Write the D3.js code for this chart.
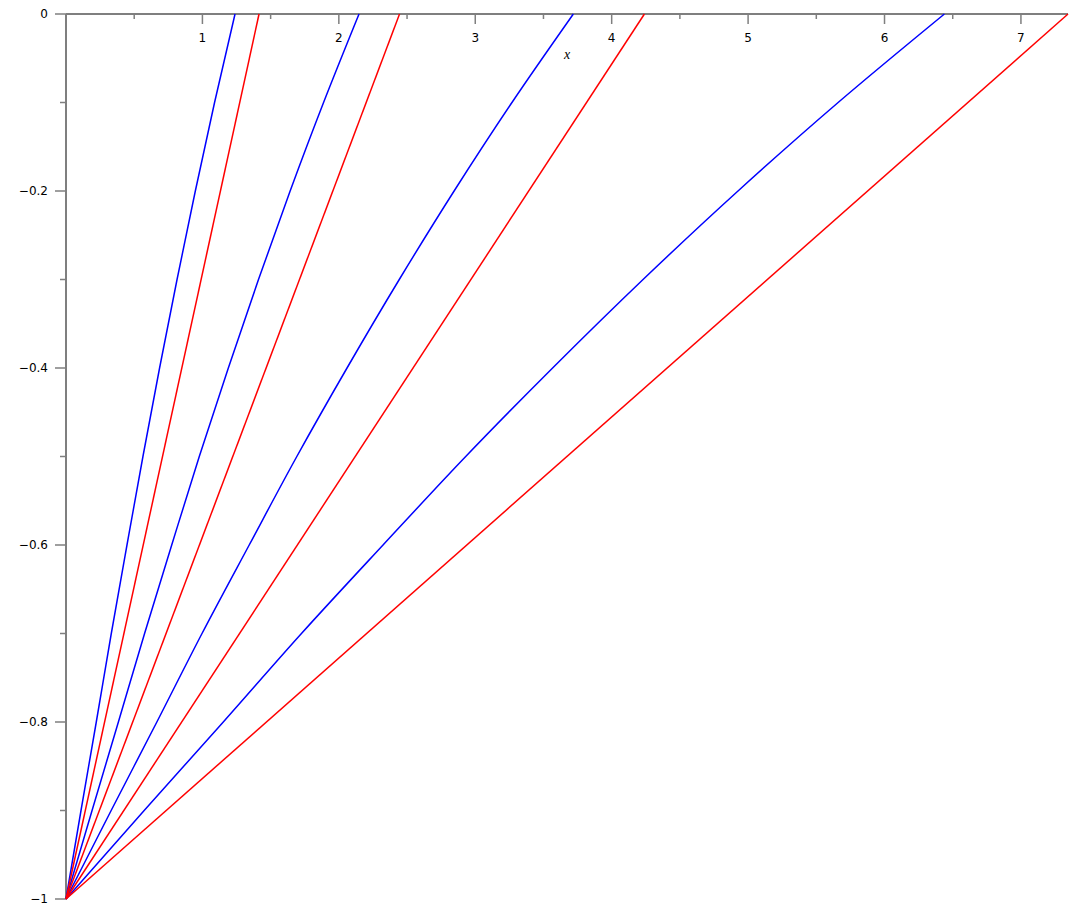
<!DOCTYPE html>
<html>
<head>
<meta charset="utf-8">
<script src="https://cdn.jsdelivr.net/npm/d3@7"></script>
<style>
  html, body { margin: 0; padding: 0; background: #fff; }
  svg { display: block; }
</style>
</head>
<body>
<svg id="chart" width="1074" height="914"></svg>
<script>
// ---- data ----
const yLevels = [-1, -0.9, -0.8, -0.7, -0.6, -0.5, -0.4, -0.3, -0.2, -0.1, 0];

// blue curves: x value at each y level
const blue1 = [0, 0.110, 0.222, 0.332, 0.447, 0.564, 0.686, 0.814, 0.948, 1.089, 1.239];
const blue2 = [0, 0.191, 0.384, 0.576, 0.775, 0.977, 1.190, 1.411, 1.643, 1.888, 2.148];
const blue3 = [0, 0.331, 0.666, 0.997, 1.343, 1.692, 2.060, 2.443, 2.845, 3.269, 3.719];
const blue4 = [0, 0.573, 1.153, 1.726, 2.324, 2.930, 3.567, 4.230, 4.926, 5.660, 6.439];

// red lines: start (y=-1) and end (y=0) x values
const redY = [-1, 0];
const red1 = [0, 1.415];
const red2 = [0, 2.445];
const red3 = [0, 4.240];
const red4 = [0, 7.345];

const xTicks = [1, 2, 3, 4, 5, 6, 7];
const xMinor = [0.5, 1.5, 2.5, 3.5, 4.5, 5.5, 6.5];
const yTicks = [0, -0.2, -0.4, -0.6, -0.8, -1];
const yTickLabels = ["0", "\u22120.2", "\u22120.4", "\u22120.6", "\u22120.8", "\u22121"];
const yMinor = [-0.1, -0.3, -0.5, -0.7, -0.9];
const xLabel = "x";

// ---- drawing ----
const svg = d3.select("#chart");
const x = d3.scaleLinear().domain([0, 7.345]).range([66, 1068]);
const y = d3.scaleLinear().domain([-1, 0]).range([899, 14]);

const axisColor = "#7f7f7f";
const g = svg.append("g");

// axis lines
g.append("line").attr("x1", x(0)).attr("x2", x(7.345)).attr("y1", y(0)).attr("y2", y(0))
  .attr("stroke", axisColor).attr("stroke-width", 2);
g.append("line").attr("x1", x(0)).attr("x2", x(0)).attr("y1", y(0)).attr("y2", y(-1))
  .attr("stroke", axisColor).attr("stroke-width", 2);

// x ticks (downward from top axis)
g.selectAll(".xt").data(xTicks).enter().append("line")
  .attr("x1", d => x(d)).attr("x2", d => x(d)).attr("y1", y(0)).attr("y2", y(0) + 10)
  .attr("stroke", axisColor).attr("stroke-width", 1.5);
g.selectAll(".xm").data(xMinor).enter().append("line")
  .attr("x1", d => x(d)).attr("x2", d => x(d)).attr("y1", y(0)).attr("y2", y(0) + 5)
  .attr("stroke", axisColor).attr("stroke-width", 1.5);
g.selectAll(".xl").data(xTicks).enter().append("text")
  .attr("x", d => x(d)).attr("y", y(0) + 28)
  .attr("text-anchor", "middle")
  .attr("font-family", "'DejaVu Sans', sans-serif").attr("font-size", 12)
  .attr("fill", "#000").text(d => d);

// y ticks (leftward)
g.selectAll(".yt").data(yTicks).enter().append("line")
  .attr("x1", x(0) - 11).attr("x2", x(0)).attr("y1", d => y(d)).attr("y2", d => y(d))
  .attr("stroke", axisColor).attr("stroke-width", 1.5);
g.selectAll(".ym").data(yMinor).enter().append("line")
  .attr("x1", x(0) - 6).attr("x2", x(0)).attr("y1", d => y(d)).attr("y2", d => y(d))
  .attr("stroke", axisColor).attr("stroke-width", 1.5);
g.selectAll(".yl").data(yTicks).enter().append("text")
  .attr("x", x(0) - 18).attr("y", d => y(d) + 4)
  .attr("text-anchor", "end")
  .attr("font-family", "'DejaVu Sans', sans-serif").attr("font-size", 12)
  .attr("fill", "#000").text((d, i) => yTickLabels[i]);

// x axis label
g.append("text").attr("x", 567).attr("y", 59)
  .attr("text-anchor", "middle")
  .attr("font-family", "'Liberation Serif', 'Times New Roman', serif")
  .attr("font-style", "italic").attr("font-size", 14)
  .attr("fill", "#000").text(xLabel);

// curves
const lineGen = d3.line().x(d => x(d[0])).y(d => y(d[1]));
const blues = [blue1, blue2, blue3, blue4];
const reds = [red1, red2, red3, red4];

blues.forEach(s => {
  const pts = s.map((v, i) => [v, yLevels[i]]);
  g.append("path").attr("d", lineGen.curve(d3.curveMonotoneY)(pts))
    .attr("fill", "none").attr("stroke", "#0000ff").attr("stroke-width", 1.5);
});
reds.forEach(s => {
  const pts = s.map((v, i) => [v, redY[i]]);
  g.append("path").attr("d", lineGen.curve(d3.curveLinear)(pts))
    .attr("fill", "none").attr("stroke", "#ff0000").attr("stroke-width", 1.5);
});
</script>
</body>
</html>
